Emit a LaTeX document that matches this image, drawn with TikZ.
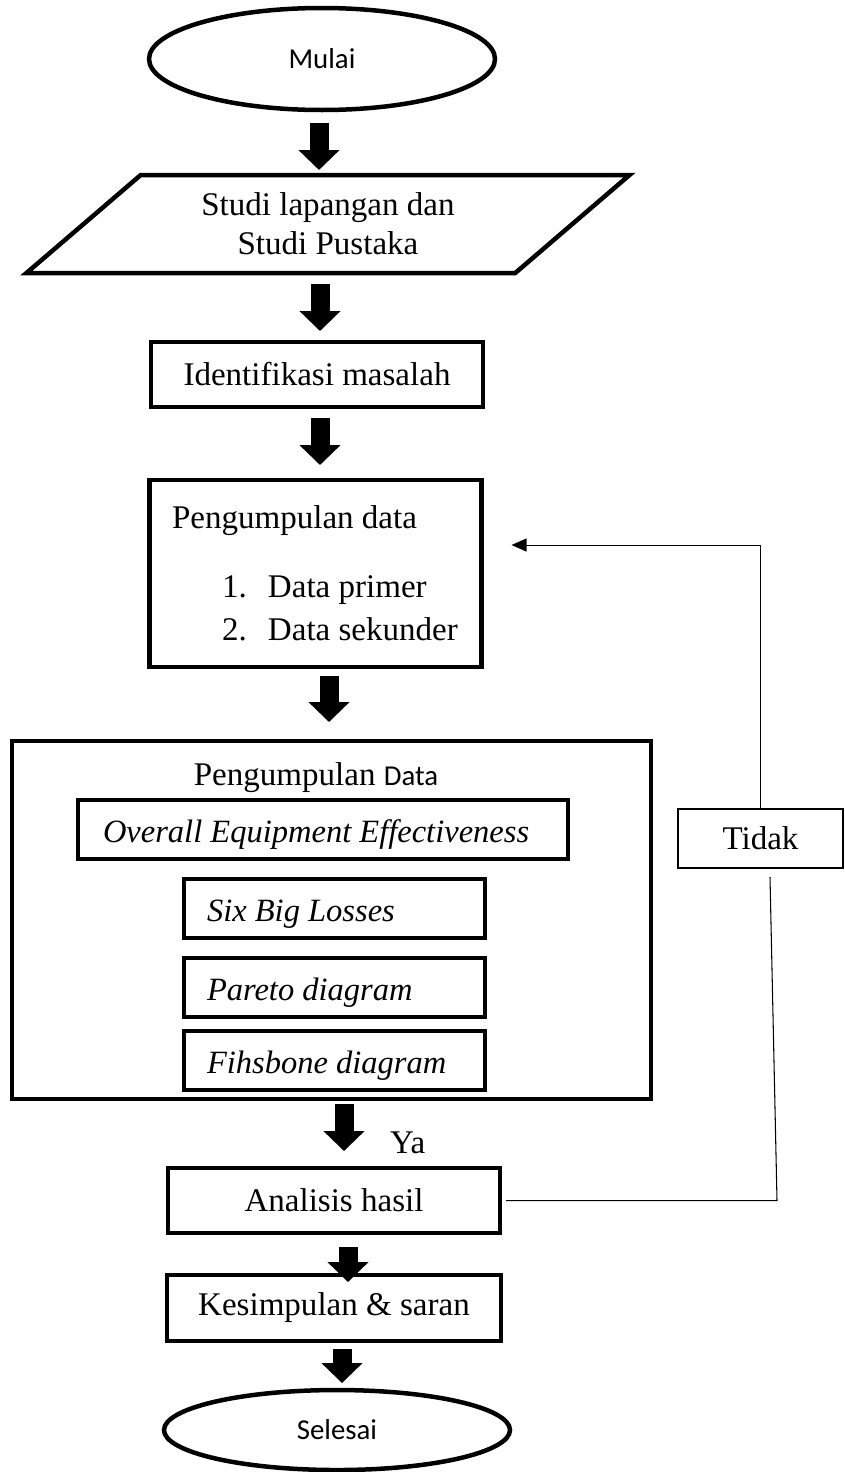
\documentclass[tikz,border=0pt]{standalone}
\usepackage{fontspec}
\setmainfont{Liberation Serif}
\newfontfamily\calibri{Carlito}
\usetikzlibrary{positioning,shapes.geometric,arrows.meta}

\begin{document}
\begin{tikzpicture}[term/.style = {draw, ellipse, line width=0.09cm, inner sep=0pt, minimum width=6.92cm, font=\calibri\fontsize{16.4}{19}\selectfont},
            io/.style = {draw, trapezium, trapezium left angle=39, trapezium right angle=141, trapezium stretches=true, line width=0.09cm, inner sep=0pt, minimum width=12.08cm, minimum height=1.96cm, align=center},
            proc/.style = {draw, rectangle, line width=0.09cm, inner sep=0pt, minimum width=6.64cm, minimum height=1.3cm},
            sub/.style = {draw, rectangle, line width=0.09cm, inner xsep=0.46cm, inner ysep=0pt, text width=5.1cm, align=flush left, minimum height=1.18cm, text height=0.68cm, text depth=0.16cm, font=\fontsize{18.5}{22.7}\selectfont\itshape},
            blockarrow/.style = {line width=0.38cm, -{Triangle[width=0.8cm, length=0.4cm]}},
            link/.style = {line width=0.6pt},
            outer sep=0pt, font=\fontsize{18.8}{22.7}\selectfont]
            \useasboundingbox (0,0) rectangle (16.88,-29.44);
            \node[term, minimum height=2.04cm] (1) at (6.44,-1.18) {Mulai};
            \node[io] (2) [below=1.3cm of 1, xshift=0.12cm] {\raisebox{-0.1cm}{\shortstack{Studi lapangan dan\\[0.08cm]Studi Pustaka}}};
            \node[proc] (3) [below=1.38cm of 2, xshift=-0.22cm] {Identifikasi masalah};
            \node[proc, minimum height=3.74cm, inner xsep=0.44cm, text width=5.74cm, align=flush left, font=\fontsize{18.8}{24.4}\selectfont] (4) [below=1.46cm of 3, xshift=-0.03cm] {Pengumpulan data\\[0.52cm]\hspace*{1cm}\makebox[0.92cm][l]{1.}\mbox{Data primer}\\\hspace*{1cm}\makebox[0.92cm][l]{2.}\mbox{Data sekunder}};
            \node[proc, minimum width=12.78cm, minimum height=7.16cm] (5) [below=1.48cm of 4, xshift=0.32cm] {};
            \node[inner sep=0pt] (6) [below=0.44cm of 5.north, xshift=-0.31cm] {Pengumpulan {\calibri\fontsize{16.4}{19}\selectfont Data}};
            \node[sub, text width=8.8cm, inner xsep=0.5cm] (7) [below=0.14cm of 6, xshift=0.14cm] {Overall Equipment Effectiveness};
            \node[sub] (8) [below=0.4cm of 7, xshift=0.23cm] {Six Big Losses};
            \node[sub] (9) [below=0.4cm of 8] {Pareto diagram};
            \node[sub] (10) [below=0.28cm of 9] {Fihsbone diagram};
            \node[draw, line width=0.04cm, minimum width=3.3cm, minimum height=1.18cm] (11) [right=0.54cm of 5, yshift=1.63cm] {Tidak};
            \node[proc] (12) [below=1.38cm of 5, xshift=0.05cm] {Analisis hasil};
            \node[proc, minimum width=6.68cm, minimum height=1.32cm] (13) [below=0.84cm of 12] {Kesimpulan \& saran};
            \node[term, minimum height=1.6cm] (14) [below=0.98cm of 13, xshift=0.06cm] {Selesai};
            \coordinate (c) at ([xshift=0.33cm]11.south |- 12.east);
            \draw[blockarrow, shorten <=0.26cm, shorten >=0.1cm] ([xshift=-0.06cm]1.south) -- ([xshift=-0.06cm]1.south |- 2.north);
            \draw[blockarrow, shorten <=0.22cm, shorten >=0.22cm] ([xshift=-0.16cm]2.south) -- ([xshift=-0.16cm]2.south |- 3.north);
            \draw[blockarrow, shorten <=0.22cm, shorten >=0.3cm] ([xshift=0.06cm]3.south) -- ([xshift=0.06cm]3.south |- 4.north);
            \draw[blockarrow, shorten <=0.18cm, shorten >=0.38cm] ([xshift=0.27cm]4.south) -- ([xshift=0.27cm]4.south |- 5.north);
            \draw[blockarrow, shorten <=0.1cm, shorten >=0.34cm] ([xshift=0.25cm]5.south) -- ([xshift=0.25cm]5.south |- 12.north) node[pos=0.64, anchor=west, xshift=0.92cm, inner sep=0pt] (15) {Ya};
            \draw[blockarrow, shorten <=0.28cm, shorten >=-0.14cm] ([xshift=0.28cm]12.south) -- ([xshift=0.28cm]12.south |- 13.north);
            \draw[blockarrow, shorten <=0.16cm, shorten >=0.14cm] ([xshift=0.16cm]13.south) -- ([xshift=0.16cm]13.south |- 14.north);
            \draw[link, shorten <=0.12cm] (12.east) -- (c) -- ([xshift=0.19cm, yshift=-0.18cm]11.south);
            \draw[link, -{Triangle[width=0.26cm, length=0.3cm]}] (11.north) |- ([xshift=0.6cm, yshift=0.57cm]4.east);
        \end{tikzpicture}
\end{document}
